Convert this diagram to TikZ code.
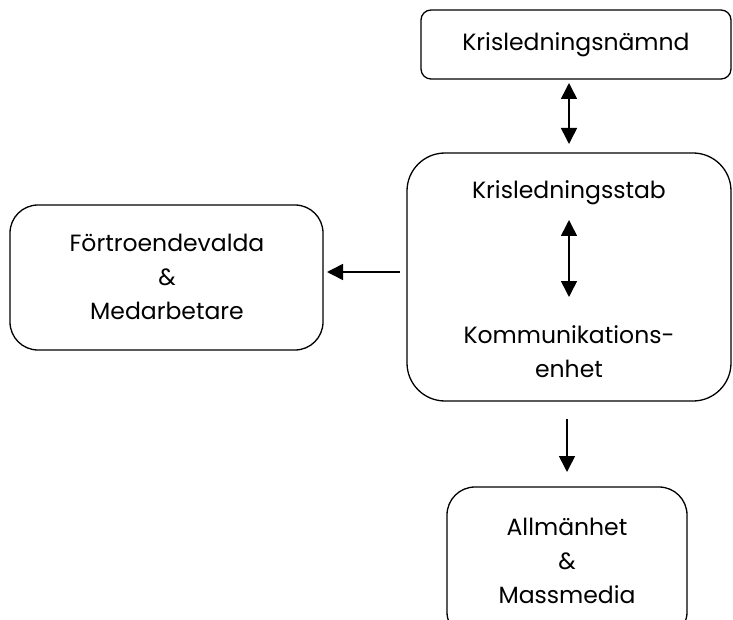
\documentclass[tikz,border=0pt]{standalone}
\usepackage{fontspec}
\setmainfont{Poppins}
\usetikzlibrary{arrows.meta}
\begin{document}
\begin{tikzpicture}[x=1pt,y=-1pt,
  box/.style={draw,line width=1.3pt,rounded corners=#1},
  box/.default=10pt,
  lbl/.style={font=\fontsize{23.5}{34}\selectfont,align=center,inner sep=0pt},
  conn/.style={line width=1.6pt,-{Triangle[width=16pt,length=16pt]}},
  dconn/.style={line width=1.6pt,{Triangle[width=16pt,length=16pt]}-{Triangle[width=16pt,length=16pt]}}]
\useasboundingbox (0,0) rectangle (733,620);
% boxes
\draw[box=10pt] (421,10) rectangle (731,79);
\node[lbl] (nmd) at (576,45) {Krisledningsnämnd};
\draw[box=38pt] (407,153) rectangle (731,401);
\node[lbl] (stab) at (569,193) {Krisledningsstab};
\node[lbl] (komm) at (569,352) {Kommunikations-\\enhet};
\draw[box=28pt] (10,205) rectangle (323,350);
\node[lbl] (fv) at (167,277) {Förtroendevalda\\\&\\Medarbetare};
\draw[box=28pt] (447,487) rectangle (687,640);
\node[lbl] (allm) at (567,561) {Allmänhet\\\&\\Massmedia};
% anchor coordinates
\coordinate (a1s) at (569,83);
\coordinate (a1e) at (569,144);
\coordinate (a2s) at (569,220);
\coordinate (a2e) at (569,297);
\coordinate (a3s) at (400,272);
\coordinate (a3e) at (327,272);
\coordinate (a4s) at (567,419);
\coordinate (a4e) at (567,472);
\draw[dconn] (a1s) -- (a1e);
\draw[dconn] (a2s) -- (a2e);
\draw[conn] (a3s) -- (a3e);
\draw[conn] (a4s) -- (a4e);
\end{tikzpicture}
\end{document}
